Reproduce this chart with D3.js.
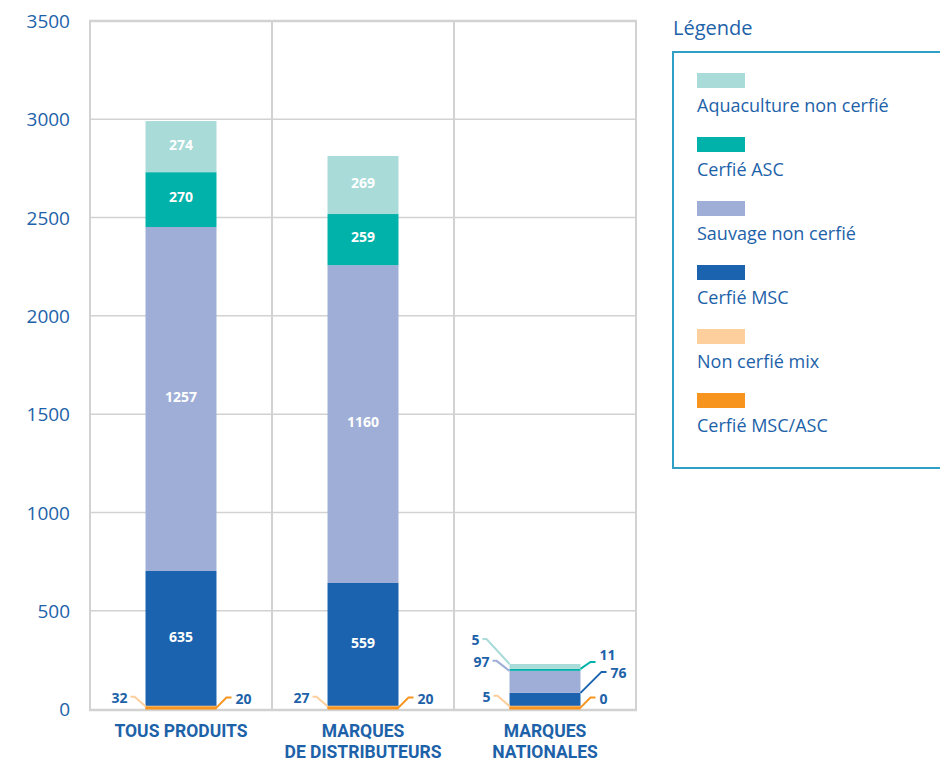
<!DOCTYPE html>
<html><head><meta charset="utf-8">
<script src="https://cdn.jsdelivr.net/npm/d3@7/dist/d3.min.js"></script>
<style>
body{margin:0;background:#fff;}
svg{display:block;}
</style></head>
<body>
<svg id="chart" width="940" height="761"></svg>
<script>
// ---------- DATA ----------
const categories = ["TOUS PRODUITS", "MARQUES\nDE DISTRIBUTEURS", "MARQUES\nNATIONALES"];
// series, bottom to top
const seriesNames = ["Cerfié MSC/ASC", "Non cerfié mix", "Cerfié MSC", "Sauvage non cerfié", "Cerfié ASC", "Aquaculture non cerfié"];
// drawn heights (per category)
const msAsc      = [7, 7, 7];
const nonMix     = [5, 5, 5];
const msc        = [690, 629, 70];
const sauvage    = [1750, 1617, 112];
const asc        = [279, 260, 10];
const aquaculture= [260, 295, 25];
// printed value labels (per category)
const lblMsAsc   = ["20", "20", "0"];
const lblNonMix  = ["32", "27", "5"];
const lblMsc     = ["635", "559", "76"];
const lblSauvage = ["1257", "1160", "97"];
const lblAsc     = ["270", "259", "11"];
const lblAqua    = ["274", "269", "5"];
const yTicks = [0, 500, 1000, 1500, 2000, 2500, 3000, 3500];
const legendOrder = ["Aquaculture non cerfié", "Cerfié ASC", "Sauvage non cerfié", "Cerfié MSC", "Non cerfié mix", "Cerfié MSC/ASC"];

// ---------- STYLE ----------
const colors = {
  "Cerfié MSC/ASC": "#f7941d",
  "Non cerfié mix": "#fdcf9d",
  "Cerfié MSC": "#1b63ae",
  "Sauvage non cerfié": "#9eaed6",
  "Cerfié ASC": "#00b2a9",
  "Aquaculture non cerfié": "#a9dbd9"
};
const textBlue = "#1d62a9";
const gridCol = "#d2d2d2";
const fontMain = "'Open Sans', 'Noto Sans', sans-serif";
const fontCat = "Roboto, 'Open Sans', sans-serif";

const seriesValues = [msAsc, nonMix, msc, sauvage, asc, aquaculture];
const seriesLabels = [lblMsAsc, lblNonMix, lblMsc, lblSauvage, lblAsc, lblAqua];

const table = categories.map((c, i) => {
  const o = {cat: c};
  seriesNames.forEach((s, k) => o[s] = seriesValues[k][i]);
  return o;
});
const stacked = d3.stack().keys(seriesNames)(table);

const svg = d3.select("#chart");
const x = d3.scaleBand().domain(categories).range([90, 636]).padding(0);
const y = d3.scaleLinear().domain([0, 3500]).range([709, 21]);
const barW = x.bandwidth() * 0.39;
const barX = c => x(c) + (x.bandwidth() - barW) / 2;

// grid
const g = svg.append("g");
g.selectAll(".hg").data(yTicks.filter(t => t > 0 && t < 3500)).join("line")
  .attr("x1", 90).attr("x2", 636).attr("y1", d => y(d)).attr("y2", d => y(d))
  .attr("stroke", gridCol).attr("stroke-width", 1.5);
g.append("line").attr("x1", 89).attr("x2", 637).attr("y1", y(3500)).attr("y2", y(3500))
  .attr("stroke", gridCol).attr("stroke-width", 2.5);
const vx = [90].concat(categories.map(c => x(c) + x.bandwidth()));
g.selectAll(".vg").data(vx).join("line")
  .attr("x1", d => d).attr("x2", d => d).attr("y1", y(3500)).attr("y2", y(0))
  .attr("stroke", gridCol).attr("stroke-width", 2);

// y axis labels
const yAxis = d3.axisLeft(y).tickValues(yTicks).tickSize(0).tickPadding(0).tickFormat(d3.format("d"));
const ya = svg.append("g").attr("transform", "translate(70,0)").call(yAxis);
ya.select(".domain").remove();
ya.selectAll("text").attr("fill", textBlue).attr("font-family", fontMain)
  .attr("font-size", 19).attr("dy", "0.35em");

// bars
stacked.forEach((layer, k) => {
  svg.append("g").selectAll("rect").data(layer).join("rect")
    .attr("x", d => barX(d.data.cat))
    .attr("width", barW)
    .attr("y", d => y(d[1]))
    .attr("height", d => y(d[0]) - y(d[1]))
    .attr("fill", colors[layer.key]);
});

// baseline
svg.append("line").attr("x1", 89).attr("x2", 637).attr("y1", y(0) + 1).attr("y2", y(0) + 1)
  .attr("stroke", gridCol).attr("stroke-width", 2.5);
// redraw orange bottom segment over baseline
svg.append("g").selectAll("rect").data(stacked[0]).join("rect")
  .attr("x", d => barX(d.data.cat)).attr("width", barW)
  .attr("y", d => y(d[1])).attr("height", d => y(d[0]) - y(d[1]) + 0.5)
  .attr("fill", colors[seriesNames[0]]);

// in-bar labels (first two categories, series 2..5)
[0, 1].forEach(i => {
  [2, 3, 4, 5].forEach(k => {
    const d = stacked[k][i];
    svg.append("text")
      .attr("x", barX(categories[i]) + barW / 2)
      .attr("y", (y(d[0]) + y(d[1])) / 2 - 2)
      .attr("dy", "0.35em")
      .attr("text-anchor", "middle")
      .attr("fill", "#fff").attr("font-weight", 700)
      .attr("font-family", fontMain).attr("font-size", 14)
      .text(seriesLabels[k][i]);
  });
});

// callouts: [category index, series index, side, rise(px), run(px), label y-shift(px)]
const callouts = [
  [0, 1, "L", 10, 11, 0], [0, 0, "R", 10, 10, 0],
  [1, 1, "L", 10, 11, 0], [1, 0, "R", 10, 10, 0],
  [2, 5, "L", 25, 23, 0], [2, 3, "L", 10, 13, 0], [2, 1, "L", 11, 12, 0],
  [2, 4, "R", 7, 10, -8], [2, 2, "R", 21, 21, 0], [2, 0, "R", 10, 10, 0]
];
callouts.forEach(([i, k, side, rise, run, shift]) => {
  const d = stacked[k][i];
  const cat = categories[i];
  const x0 = barX(cat), x1 = x0 + barW;
  const ay = y(d[1]);
  const col = colors[seriesNames[k]];
  let pts, tx, anchor;
  if (side === "L") {
    pts = [[x0 + (k < 2 ? 0.5 : 0), ay], [x0 - run, ay - rise], [x0 - run - 4, ay - rise]];
    tx = x0 - run - 7; anchor = "end";
  } else {
    pts = [[x1, ay], [x1 + run, ay - rise], [x1 + run + 5, ay - rise]];
    tx = x1 + run + 9; anchor = "start";
  }
  if (k < 2) pts.unshift(side === "L" ? [x1, ay] : [x0, ay]);
  svg.append("path")
    .attr("d", d3.line()(pts))
    .attr("fill", "none").attr("stroke", col).attr("stroke-width", 2);
  svg.append("text")
    .attr("x", tx).attr("y", ay - rise + 1 + shift).attr("dy", "0.35em")
    .attr("text-anchor", anchor)
    .attr("fill", textBlue).attr("font-weight", 700)
    .attr("font-family", fontMain).attr("font-size", 14)
    .text(seriesLabels[k][i]);
});

// category labels (one text element per line)
categories.forEach(c => {
  c.split("\n").forEach((l, j) => {
    svg.append("text")
      .attr("x", x(c) + x.bandwidth() / 2).attr("y", 737 + j * 21)
      .attr("text-anchor", "middle").attr("fill", textBlue)
      .attr("font-weight", 700).attr("font-family", fontCat).attr("font-size", 17.5)
      .text(l);
  });
});

// legend
svg.append("text").attr("x", 673).attr("y", 35).attr("fill", textBlue)
  .attr("font-family", fontMain).attr("font-size", 20).text("Légende");
svg.append("rect").attr("x", 673).attr("y", 52).attr("width", 290).attr("height", 416)
  .attr("fill", "none").attr("stroke", "#2f9fc6").attr("stroke-width", 2);
const lg = svg.append("g").selectAll("g").data(legendOrder).join("g")
  .attr("transform", (d, j) => `translate(697,${73 + j * 64})`);
lg.append("rect").attr("width", 48).attr("height", 15).attr("fill", d => colors[d]);
lg.append("text").attr("y", 39).attr("fill", textBlue)
  .attr("font-family", fontMain).attr("font-size", 18).text(d => d);
</script>
</body></html>
